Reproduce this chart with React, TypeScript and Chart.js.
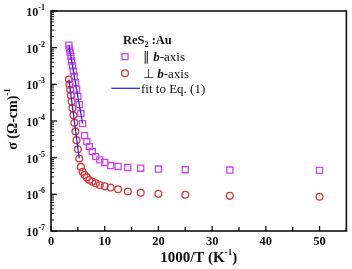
import React, { useEffect, useRef } from "react";
import { Chart, registerables } from "chart.js";

Chart.register(...registerables);

// ---- data ----
const xValues = [
  3.33, 3.45, 3.57, 3.7, 3.85, 4.0, 4.17, 4.35, 4.55, 4.76, 5.0, 5.26, 5.56, 5.88,
  6.25, 6.67, 7.14, 7.69, 8.33, 9.09, 10.0, 11.1, 12.5, 14.3, 16.7, 20.0, 25.0, 33.3, 50.0,
];
const sigmaParallel = [
  1.17e-2, 9.3e-3, 7.4e-3, 5.8e-3, 4.3e-3, 3.2e-3, 2.3e-3, 1.63e-3, 1.11e-3, 7.4e-4, 4.7e-4,
  2.8e-4, 1.6e-4, 8.5e-5, 4.0e-5, 2.75e-5, 2.0e-5, 1.47e-5, 1.07e-5, 8.7e-6, 7.4e-6, 6.1e-6,
  5.75e-6, 5.4e-6, 5.15e-6, 4.9e-6, 4.7e-6, 4.6e-6, 4.5e-6,
];
const sigmaPerp = [
  1.35e-3, 9.8e-4, 7.1e-4, 5.0e-4, 3.4e-4, 2.24e-4, 1.44e-4, 8.9e-5, 5.2e-5, 3.0e-5, 1.7e-5,
  9.5e-6, 5.6e-6, 4.1e-6, 3.4e-6, 2.9e-6, 2.46e-6, 2.2e-6, 2.0e-6, 1.8e-6, 1.65e-6, 1.54e-6,
  1.37e-6, 1.2e-6, 1.1e-6, 1.03e-6, 0.97e-6, 0.91e-6, 0.86e-6,
];
const fitParallelX = [3.33, 5.88];
const fitParallelY = [1.17e-2, 8.5e-5];
const fitPerpX = [3.33, 5.26];
const fitPerpY = [1.35e-3, 9.5e-6];

const xTickLabels = [0, 10, 20, 30, 40, 50];
const xMinorStep = 5;
const yExponents = [-7, -6, -5, -4, -3, -2, -1];

const legendTitle = ["ReS", "2", " :Au"];
const legendParallel = ["\u2225 ", "b", "-axis"];
const legendPerp = ["\u22A5 ", "b", "-axis"];
const legendFit = "fit to Eq. (1)";
const xTitle = ["1000/T (K", "-1", ")"];
const yTitle = ["\u03C3 (\u03A9-cm)", "-1"];

// ---- styles ----
const SERIF = '"Liberation Serif", "Times New Roman", serif';
const MAGENTA = "#cc44ee";
const RED = "#d83a3a";
const BLUE = "#2b2bd6";

type Run = { text: string; font: string; dy?: number };

function drawRuns(
  ctx: CanvasRenderingContext2D,
  runs: Run[],
  x: number,
  y: number,
  align: "left" | "center" | "right"
) {
  let total = 0;
  const widths = runs.map((r) => {
    ctx.font = r.font;
    const w = ctx.measureText(r.text).width;
    total += w;
    return w;
  });
  let cx = x;
  if (align === "center") cx = x - total / 2;
  if (align === "right") cx = x - total;
  ctx.textAlign = "left";
  ctx.textBaseline = "alphabetic";
  runs.forEach((r, i) => {
    ctx.font = r.font;
    ctx.fillText(r.text, cx, y + (r.dy || 0));
    cx += widths[i];
  });
}

const decorPlugin = {
  id: "decor",
  afterDraw(chart: any) {
    const ctx: CanvasRenderingContext2D = chart.ctx;
    const { left, right, top, bottom } = chart.chartArea;
    const xs = chart.scales.x;
    const ys = chart.scales.y;
    ctx.save();
    ctx.fillStyle = "#111";
    ctx.strokeStyle = "#111";

    // frame
    ctx.lineWidth = 1.6;
    ctx.strokeRect(left, top, right - left, bottom - top);

    // x ticks (inward)
    ctx.lineWidth = 1.3;
    for (let v = xs.min; v <= xs.max + 1e-9; v += xMinorStep) {
      const px = xs.getPixelForValue(v);
      const len = v % 10 === 0 ? 5 : 4;
      ctx.beginPath();
      ctx.moveTo(px, bottom);
      ctx.lineTo(px, bottom - len);
      ctx.stroke();
    }
    // x labels
    const labelFont = `bold 12.5px ${SERIF}`;
    xTickLabels.forEach((v) => {
      const px = xs.getPixelForValue(v);
      drawRuns(ctx, [{ text: String(v), font: labelFont }], px, bottom + 14, "center");
    });

    // y ticks (log, inward)
    yExponents.forEach((e) => {
      const major = Math.pow(10, e);
      const py = ys.getPixelForValue(major);
      ctx.lineWidth = 1.3;
      ctx.beginPath();
      ctx.moveTo(left, py);
      ctx.lineTo(left + 6, py);
      ctx.stroke();
      if (e < yExponents[yExponents.length - 1]) {
        ctx.lineWidth = 1;
        for (let k = 2; k <= 9; k++) {
          const pm = ys.getPixelForValue(k * major);
          ctx.beginPath();
          ctx.moveTo(left, pm);
          ctx.lineTo(left + 3, pm);
          ctx.stroke();
        }
      }
      drawRuns(
        ctx,
        [
          { text: "10", font: `bold 12px ${SERIF}` },
          { text: `${e}`, font: `bold 8px ${SERIF}`, dy: -6 },
        ],
        left - 6,
        py + 5,
        "right"
      );
    });

    // axis titles
    drawRuns(
      ctx,
      [
        { text: xTitle[0], font: `bold 15px ${SERIF}` },
        { text: xTitle[1], font: `bold 9px ${SERIF}`, dy: -7 },
        { text: xTitle[2], font: `bold 15px ${SERIF}` },
      ],
      (left + right) / 2,
      bottom + 31,
      "center"
    );
    ctx.save();
    ctx.translate(17, (top + bottom) / 2 - 2);
    ctx.rotate(-Math.PI / 2);
    drawRuns(
      ctx,
      [
        { text: yTitle[0], font: `bold 14px ${SERIF}` },
        { text: yTitle[1], font: `bold 9px ${SERIF}`, dy: -7 },
      ],
      0,
      0,
      "center"
    );
    ctx.restore();

    // legend
    const lx = 123;
    drawRuns(
      ctx,
      [
        { text: legendTitle[0], font: `bold 12.5px ${SERIF}` },
        { text: legendTitle[1], font: `bold 8px ${SERIF}`, dy: 3 },
        { text: legendTitle[2], font: `bold 12.5px ${SERIF}` },
      ],
      lx,
      44,
      "left"
    );
    const txtFont = `13px ${SERIF}`;
    const biFont = `bold italic 13px ${SERIF}`;
    // parallel marker
    ctx.strokeStyle = MAGENTA;
    ctx.lineWidth = 1.3;
    ctx.strokeRect(125 - 3, 56.7 - 3, 6, 6);
    ctx.fillStyle = "#111";
    drawRuns(
      ctx,
      [
        { text: legendParallel[0], font: txtFont },
        { text: legendParallel[1], font: biFont },
        { text: legendParallel[2], font: txtFont },
      ],
      143,
      61,
      "left"
    );
    // perp marker
    ctx.strokeStyle = RED;
    ctx.beginPath();
    ctx.arc(125, 73.3, 3.4, 0, Math.PI * 2);
    ctx.stroke();
    drawRuns(
      ctx,
      [
        { text: legendPerp[0], font: txtFont },
        { text: legendPerp[1], font: biFont },
        { text: legendPerp[2], font: txtFont },
      ],
      143,
      77.5,
      "left"
    );
    // fit line
    ctx.strokeStyle = BLUE;
    ctx.lineWidth = 1.3;
    ctx.beginPath();
    ctx.moveTo(111.5, 88.3);
    ctx.lineTo(140, 88.3);
    ctx.stroke();
    drawRuns(ctx, [{ text: legendFit, font: txtFont }], 141, 92.5, "left");

    ctx.restore();
  },
};

export default function App() {
  const ref = useRef<HTMLCanvasElement | null>(null);

  useEffect(() => {
    document.body.style.margin = "0";
    if (!ref.current) return;
    const toPts = (xs: number[], ys: number[]) => xs.map((x, i) => ({ x, y: ys[i] }));
    const chart = new Chart(ref.current, {
      type: "scatter",
      data: {
        datasets: [
          {
            label: "fit par",
            data: toPts(fitParallelX, fitParallelY),
            showLine: true,
            borderColor: BLUE,
            borderWidth: 1.3,
            pointRadius: 0,
            order: 0,
          },
          {
            label: "fit perp",
            data: toPts(fitPerpX, fitPerpY),
            showLine: true,
            borderColor: BLUE,
            borderWidth: 1.3,
            pointRadius: 0,
            order: 0,
          },
          {
            label: "|| b-axis",
            data: toPts(xValues, sigmaParallel),
            pointStyle: "rect",
            pointRadius: 4.3,
            borderColor: MAGENTA,
            backgroundColor: "rgba(0,0,0,0)",
            pointBorderWidth: 1.3,
            showLine: false,
            order: 1,
          },
          {
            label: "⊥ b-axis",
            data: toPts(xValues, sigmaPerp),
            pointStyle: "circle",
            pointRadius: 3.4,
            borderColor: RED,
            backgroundColor: "rgba(0,0,0,0)",
            pointBorderWidth: 1.3,
            showLine: false,
            order: 1,
          },
        ],
      } as any,
      options: {
        animation: false,
        responsive: false,
        devicePixelRatio: 1,
        layout: { padding: { left: 51, right: 5, top: 11, bottom: 38 } },
        scales: {
          x: { type: "linear", min: 0, max: 55, display: false },
          y: { type: "logarithmic", min: 1e-7, max: 1e-1, display: false },
        },
        plugins: {
          legend: { display: false },
          tooltip: { enabled: false },
        },
      } as any,
      plugins: [decorPlugin],
    });
    return () => chart.destroy();
  }, []);

  return (
    <div style={{ width: 352, height: 269, background: "#fff" }}>
      <canvas ref={ref} width={352} height={269} style={{ display: "block" }} />
    </div>
  );
}
